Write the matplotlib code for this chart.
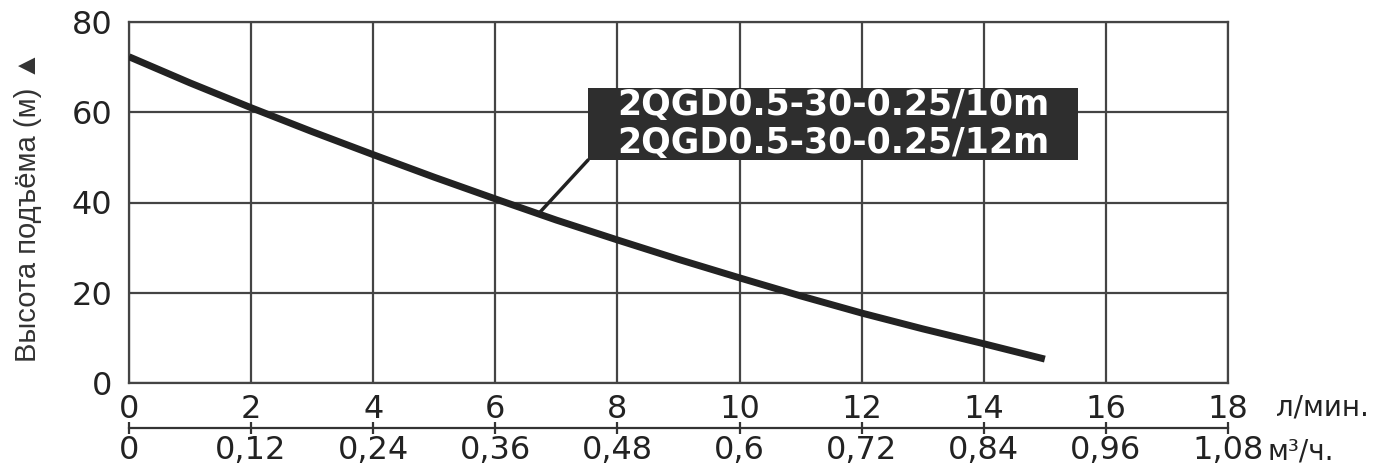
import matplotlib
matplotlib.use("Agg")
import matplotlib.pyplot as plt
from matplotlib.patches import Rectangle

# ---- data ----
flow_lpm = [0, 1, 2, 3, 4, 5, 6, 7, 8, 9, 10, 11, 12, 13, 14, 15]
head_m = [72.3, 66.5, 61.0, 55.7, 50.6, 45.6, 40.8, 36.1, 31.7, 27.4, 23.3, 19.3, 15.5, 12.0, 8.7, 5.3]
x_ticks = [0, 2, 4, 6, 8, 10, 12, 14, 16, 18]
x_tick_labels = ["0", "2", "4", "6", "8", "10", "12", "14", "16", "18"]
m3h_tick_labels = ["0", "0,12", "0,24", "0,36", "0,48", "0,6", "0,72", "0,84", "0,96", "1,08"]
y_ticks = [0, 20, 40, 60, 80]
model_labels = ["2QGD0.5-30-0.25/10m", "2QGD0.5-30-0.25/12m"]
annot_point = (6.7, 37.4)

W, H = 1398, 467
fig = plt.figure(figsize=(W / 100, H / 100), dpi=100)
fig.patch.set_facecolor("white")

L, R, B, T = 129, 1228, 383, 22
ax = fig.add_axes([L / W, (H - B) / H, (R - L) / W, (B - T) / H])
ax.set_xlim(0, 18)
ax.set_ylim(0, 80)

gridc = "#444444"
tickfont = 23
ax.set_xticks(x_ticks)
ax.set_xticklabels(x_tick_labels)
ax.set_yticks(y_ticks)
ax.grid(True, color=gridc, linewidth=1.6)
for s in ax.spines.values():
    s.set_color(gridc)
    s.set_linewidth(1.6)
ax.tick_params(axis="both", length=0, labelsize=tickfont, colors="#222222")
ax.tick_params(axis="x", pad=8)
ax.tick_params(axis="y", pad=12)

ax.plot(flow_lpm, head_m, color="#222222", linewidth=5, solid_capstyle="butt", zorder=3)

# annotation box (axes-fraction layout)
bx0, by0, bx1, by1 = 0.4177, 0.6177, 0.8635, 0.8172
ax.add_patch(Rectangle((bx0, by0), bx1 - bx0, by1 - by0, transform=ax.transAxes,
                       facecolor="#2e2e2e", edgecolor="none", zorder=5))
for lab, yy in zip(model_labels, [0.770, 0.665]):
    ax.text((bx0 + bx1) / 2, yy, lab, transform=ax.transAxes, ha="center", va="center",
            fontsize=25, fontweight="bold", color="white", family="DejaVu Sans", zorder=6)
ax.annotate("", xy=annot_point, xytext=(bx0, by0), textcoords="axes fraction",
            arrowprops=dict(arrowstyle="-", color="#222222", linewidth=2.5,
                            shrinkA=0, shrinkB=0), zorder=4)

# y label
fig.text(28 / W, 1 - 206 / H, "Высота подъёма (м) ▲", rotation=90, ha="center", va="center",
         fontsize=21, color="#333333", family=["Liberation Sans", "DejaVu Sans"])

# secondary flow axis (m3/h)
ax2 = fig.add_axes([L / W, (H - 428) / H, (R - L) / W, 1e-5])
ax2.set_xlim(0, 18)
ax2.set_ylim(0, 1)
ax2.set_yticks([])
ax2.patch.set_alpha(0)
for k in ["left", "right", "top"]:
    ax2.spines[k].set_visible(False)
ax2.spines["bottom"].set_color("#333333")
ax2.spines["bottom"].set_linewidth(1.6)
ax2.set_xticks(x_ticks)
ax2.set_xticklabels(m3h_tick_labels)
ax2.tick_params(axis="x", direction="inout", length=8, width=1.6, color="#333333",
                labelsize=tickfont, labelcolor="#222222", pad=1)

fig.text(1276 / W, 1 - 408 / H, "л/мин.", ha="left", va="center", fontsize=20, color="#222222")
fig.text(1268 / W, 1 - 452 / H, "м³/ч.", ha="left", va="center", fontsize=20, color="#222222")

fig.savefig("out.png", dpi=100, facecolor="white")
